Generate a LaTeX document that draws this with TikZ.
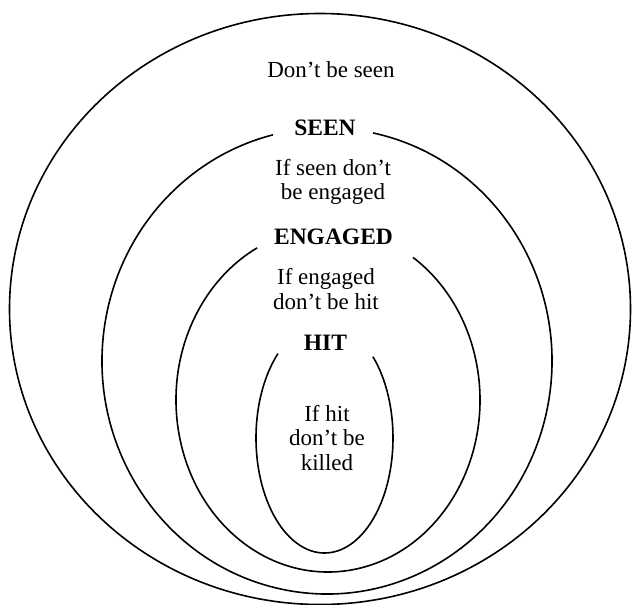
\documentclass[tikz,border=0pt]{standalone}
\usepackage{fontspec}
\setmainfont{Liberation Serif}
\begin{document}
\begin{tikzpicture}[x=1pt,y=-1pt,line width=1.6pt,
  lbl/.style={font=\fontsize{23}{24.5}\selectfont,align=center,inner sep=0pt},
  head/.style={font=\fontsize{23.5}{25}\selectfont\bfseries,inner sep=0pt}]
\useasboundingbox (0,0) rectangle (632,605);
% outer: don't be seen
\draw (320,309) ellipse [x radius=310.5, y radius=295.5];
% SEEN ring
\draw (327,361) ++(-78.2:225 and 233) arc[start angle=-78.2,end angle=256.1,x radius=225,y radius=233];
% ENGAGED ring
\draw (328,400) ++(-56:152 and 172) arc[start angle=-56,end angle=242.2,x radius=152,y radius=172];
% HIT ring
\draw (324.5,438) ++(-45:68.5 and 115) arc[start angle=-45,end angle=227.2,x radius=68.5,y radius=115];
\node[lbl] (t0) at (331,70) {Don’t be seen};
\node[head] (seen) at (325,128) {SEEN};
\node[lbl] (t1) at (333,182) {If seen don’t\\be engaged};
\node[head] (eng) at (333.5,237) {ENGAGED};
\node[lbl] (t2) at (326,289) {If engaged\\don’t be hit};
\node[head] (hit) at (325.5,343) {HIT};
\node[lbl] (t3) at (327,438) {If hit\\don’t be\\killed};
\end{tikzpicture}
\end{document}
